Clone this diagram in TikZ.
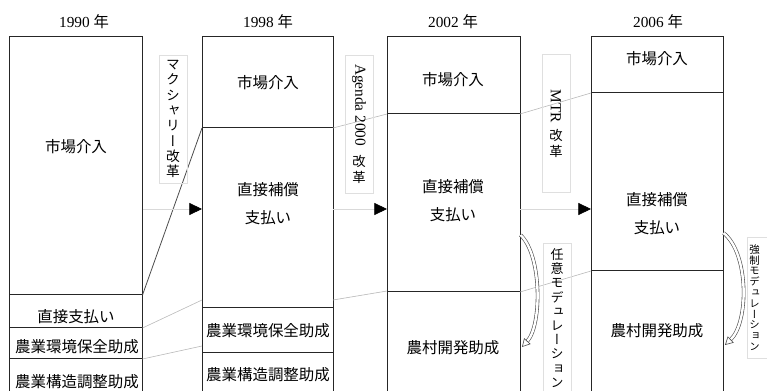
\documentclass[tikz,border=0pt]{standalone}
\usepackage{fontspec}
\usepackage{graphicx}
\setmainfont{Liberation Serif}
\newfontfamily\jp{Noto Sans CJK JP}
\newfontfamily\jpv[RawFeature=+vert]{Noto Sans CJK JP}
\usetikzlibrary{arrows.meta}

\begin{document}
\begin{tikzpicture}[x=0.75pt,y=-0.75pt,
		col/.style={draw=black!85, line width=0.75pt},
		lab/.style={font=\jp\fontsize{11.6}{21}\selectfont, inner sep=0pt, align=center},
		yr/.style={font=\fontsize{11.5}{14}\selectfont, inner sep=0pt},
		link/.style={draw=gray!55, line width=0.45pt},
		flow/.style={draw=gray!30, line width=0.5pt, -{Triangle[length=9.5pt,width=9pt,color=black]}},
		reform/.style={draw=gray!25, line width=0.5pt, align=center, inner sep=0pt, minimum width=21pt},
		modarr/.style={draw=gray!60!black, double=white, double distance=1.8pt, line width=0.45pt, -{Triangle[open,length=6pt,width=6.5pt]}}]
		\useasboundingbox (0,0) rectangle (767,391);
		\clip (0,0) rectangle (767,391);
		\coordinate (a1) at (142.5,295);
		\coordinate (a2) at (142.5,328);
		\coordinate (a3) at (142.5,359);
		\coordinate (af) at (142.5,209);
		\coordinate (b1) at (202,128);
		\coordinate (b2) at (202,300);
		\coordinate (b3) at (202,346);
		\coordinate (bf) at (202,209);
		\coordinate (c1) at (333,128);
		\coordinate (c2) at (333,300);
		\coordinate (cf) at (333,209);
		\coordinate (d1) at (387,114);
		\coordinate (d2) at (387,291);
		\coordinate (df) at (387,209);
		\coordinate (e1) at (520,114);
		\coordinate (e2) at (520,292);
		\coordinate (ef) at (520,209);
		\coordinate (f1) at (591,93);
		\coordinate (f2) at (591,271);
		\coordinate (ff) at (591,209);
		\draw[col] (9.5,36.5) rectangle (142.5,400);
		\draw[col] (202,37) rectangle (333,400);
		\draw[col] (387,36.5) rectangle (520,400);
		\draw[col] (591,36.5) rectangle (723,400);
		\draw[col] (9.5,295)--(a1) (9.5,328)--(a2) (9.5,359)--(a3);
		\draw[col] (b1)--(c1) (202,308)--(333,308) (202,353)--(333,353);
		\draw[col] (d1)--(e1) (387,292)--(e2);
		\draw[col] (f1)--(724,93) (f2)--(723,271);
		\draw[link, draw=gray!60!black, line width=0.6pt] (a1)--(b1);
		\draw[link] (a2)--(b2);
		\draw[link] (a3)--(b3);
		\draw[link] (c1)--(d1);
		\draw[link] (c2)--(d2);
		\draw[link] (e1)--(f1);
		\draw[link] (e2)--(f2);
		\draw[flow] (af)--(bf);
		\draw[flow] (cf)--(df);
		\draw[flow] (ef)--(ff);
		\coordinate (m1s) at (520.5,235);
		\coordinate (m1e) at (522,347);
		\coordinate (m2s) at (723.5,233);
		\coordinate (m2e) at (725,345);
		\draw[modarr] (m1s) .. controls (542,255) and (542,325) .. (m1e);
		\draw[modarr] (m2s) .. controls (749,253) and (749,322) .. (m2e);
		\node[yr] (t90) at (84,22) {1990 {\jp 年}};
		\node[yr] (t98) at (268,22) {1998 {\jp 年}};
		\node[yr] (t02) at (453,22) {2002 {\jp 年}};
		\node[yr] (t06) at (658,22) {2006 {\jp 年}};
		\node[lab] (mkt90) at (76,147) {市場介入};
		\node[lab] (dp90) at (76,317) {直接支払い};
		\node[lab] (env90) at (77,347) {農業環境保全助成};
		\node[lab] (str90) at (77,382) {農業構造調整助成};
		\node[lab] (mkt98) at (268,83) {市場介入};
		\node[lab] (cp98) at (268,204) {直接補償\\支払い};
		\node[lab] (env98) at (268,331) {農業環境保全助成};
		\node[lab] (str98) at (268,375) {農業構造調整助成};
		\node[lab] (mkt02) at (453,80) {市場介入};
		\node[lab] (cp02) at (453,201) {直接補償\\支払い};
		\node[lab] (rd02) at (453,348) {農村開発助成};
		\node[lab] (mkt06) at (657,59) {市場介入};
		\node[lab] (cp06) at (657,214) {直接補償\\支払い};
		\node[lab] (rd06) at (657,331) {農村開発助成};
		\node[reform, minimum height=96pt, font=\jpv\fontsize{10.3}{11.5}\selectfont] (mac) at (173,119) {マ\\ク\\シ\\ャ\\リ\\ー\\改\\革};
		\node[reform, minimum height=103.5pt, font=\jp\fontsize{10}{12}\selectfont] (agd) at (359,124) {\rotatebox{-90}{\rmfamily\fontsize{11.5}{13}\selectfont Agenda 2000}\\[6pt]改\\革};
		\node[reform, minimum height=104pt, font=\jp\fontsize{10}{12}\selectfont] (mtr) at (556,123.5) {\rotatebox{-90}{\rmfamily\fontsize{11.5}{13}\selectfont MTR}\\[4pt]改\\革};
		\node[reform, minimum height=112.5pt, font=\jpv\fontsize{9.75}{10.65}\selectfont] (vmod) at (557,318) {任\\意\\モ\\デ\\ュ\\レ\\ー\\シ\\ョ\\ン};
		\node[reform, anchor=west, minimum height=90.75pt, text width=24pt, inner xsep=1.5pt, align=left, font=\jpv\fontsize{7.8}{8.1}\selectfont] (cmod) at (747,297.5) {強\\制\\モ\\デ\\ュ\\レ\\ー\\シ\\ョ\\ン};
\end{tikzpicture}
\end{document}
